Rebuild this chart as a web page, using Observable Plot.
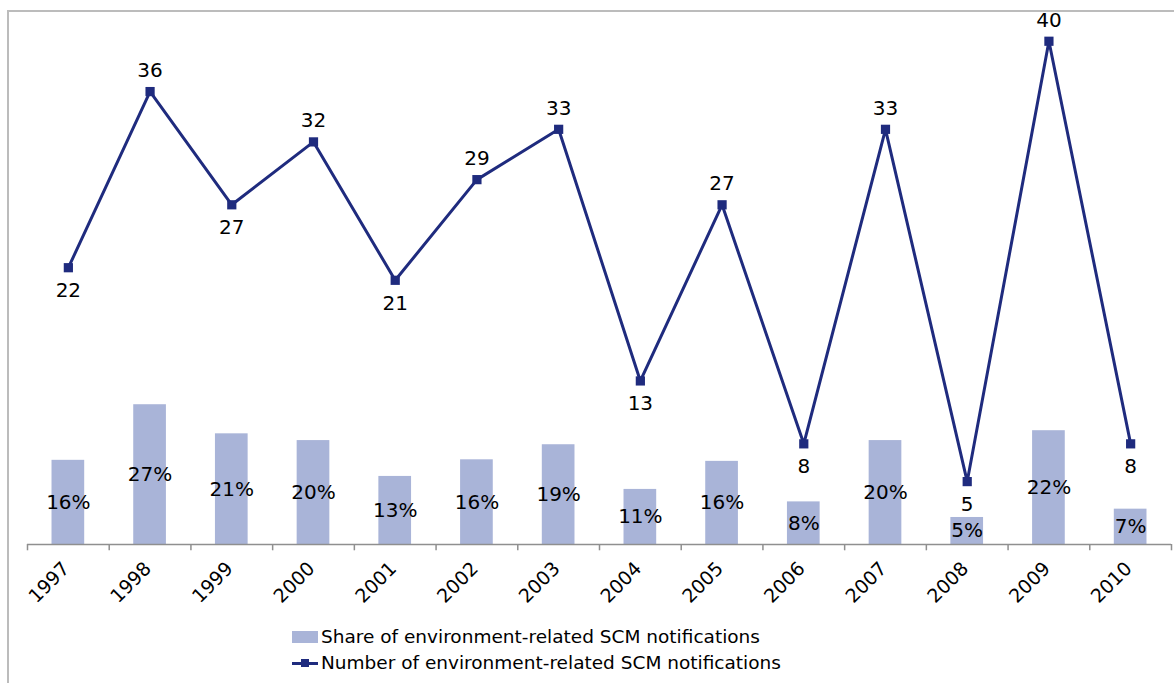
<!DOCTYPE html>
<html>
<head>
<meta charset="utf-8">
<script src="https://cdn.jsdelivr.net/npm/d3@7"></script>
<script src="https://cdn.jsdelivr.net/npm/@observablehq/plot@0.6"></script>
<style>
  html, body { margin: 0; padding: 0; background: #fff; width: 1174px; height: 683px; overflow: hidden; }
  #chart { position: absolute; left: 0; top: 0; }
  #frame { position: absolute; left: 7px; top: 10px; width: 1300px; height: 900px;
           border-left: 2px solid #bcbcbc; border-top: 2px solid #bcbcbc; pointer-events: none; }
  #legend { position: absolute; left: 292px; top: 624px; font-family: "DejaVu Sans", Verdana, sans-serif;
            font-size: 18.5px; color: #000; line-height: 26px; }
  .row { display: flex; align-items: center; height: 26px; white-space: nowrap; }
  .sw { width: 26px; height: 12px; background: #a9b4d8; margin-right: 3px; }
  .ln { position: relative; width: 26px; height: 12px; margin-right: 3px; }
  .ln::before { content: ""; position: absolute; left: 0; right: 0; top: 5px; height: 3px; background: #1f2b7e; }
  .ln::after { content: ""; position: absolute; left: 9px; top: 2px; width: 8px; height: 8px; background: #1f2b7e; }
</style>
</head>
<body>
<div id="chart"></div>
<div id="frame"></div>
<div id="legend">
  <div class="row"><div class="sw"></div><span>Share of environment-related SCM notifications</span></div>
  <div class="row"><div class="ln"></div><span>Number of environment-related SCM notifications</span></div>
</div>
<script>
const years = ["1997","1998","1999","2000","2001","2002","2003","2004","2005","2006","2007","2008","2009","2010"];
const shares = [0.162, 0.269, 0.213, 0.200, 0.131, 0.163, 0.192, 0.106, 0.160, 0.082, 0.200, 0.052, 0.219, 0.068];
const numbers = [22, 36, 27, 32, 21, 29, 33, 13, 27, 8, 33, 5, 40, 8];

// secondary (share) axis expressed in primary (number) units: 100% share = SHARE_FULL units
const SHARE_FULL = 41.3;
const barColor = "#a9b4d8";
const lineColor = "#1f2b7e";
const axisColor = "#8f8f8f";
const font = "DejaVu Sans, Verdana, sans-serif";

const table = years.map((year, i) => ({
  year,
  share: shares[i],
  number: numbers[i],
  above: i > 0 && numbers[i] > numbers[i - 1]
}));

const W = 1174, H = 615;
const mL = 27, mR = 3;
const step = (W - mL - mR) / years.length;

const chart = Plot.plot({
  width: W,
  height: H,
  marginLeft: mL,
  marginRight: mR,
  marginTop: 3,
  marginBottom: 71,
  style: { background: "none", fontFamily: font, overflow: "visible" },
  x: { type: "band", domain: years, paddingInner: 0.6, paddingOuter: 0.3, round: false, axis: null },
  y: { domain: [0, 43], axis: null },
  marks: [
    Plot.barY(table, { x: "year", y: d => d.share * SHARE_FULL, fill: barColor }),
    Plot.ruleY([0], { stroke: axisColor, strokeWidth: 1.5 }),
    // category boundary ticks
    Plot.ruleX(table, { x: "year", y1: 0, y2: -0.5, dx: -step / 2, stroke: axisColor, strokeWidth: 1.5 }),
    Plot.ruleX(table.slice(-1), { x: "year", y1: 0, y2: -0.5, dx: step / 2, stroke: axisColor, strokeWidth: 1.5 }),
    // share labels, centred in bars
    Plot.text(table, { x: "year", y: d => d.share * SHARE_FULL / 2, text: d => d3.format(".0%")(d.share),
      fontSize: 20, fill: "#000" }),
    // number line
    Plot.line(table, { x: "year", y: "number", stroke: lineColor, strokeWidth: 3 }),
    Plot.dot(table, { x: "year", y: "number", symbol: "square", r: 5.2, fill: lineColor, stroke: "none" }),
    Plot.text(table.filter(d => d.above), { x: "year", y: "number", text: d => String(d.number),
      dy: -21, fontSize: 20, fill: "#000" }),
    Plot.text(table.filter(d => !d.above), { x: "year", y: "number", text: d => String(d.number),
      dy: 23, fontSize: 20, fill: "#000" }),
    // x tick labels
    Plot.text(table, { x: "year", y: 0, text: "year", rotate: -45, textAnchor: "end",
      dx: -2, dy: 21, fontSize: 19, fill: "#000" })
  ]
});
document.getElementById("chart").appendChild(chart);
</script>
</body>
</html>
